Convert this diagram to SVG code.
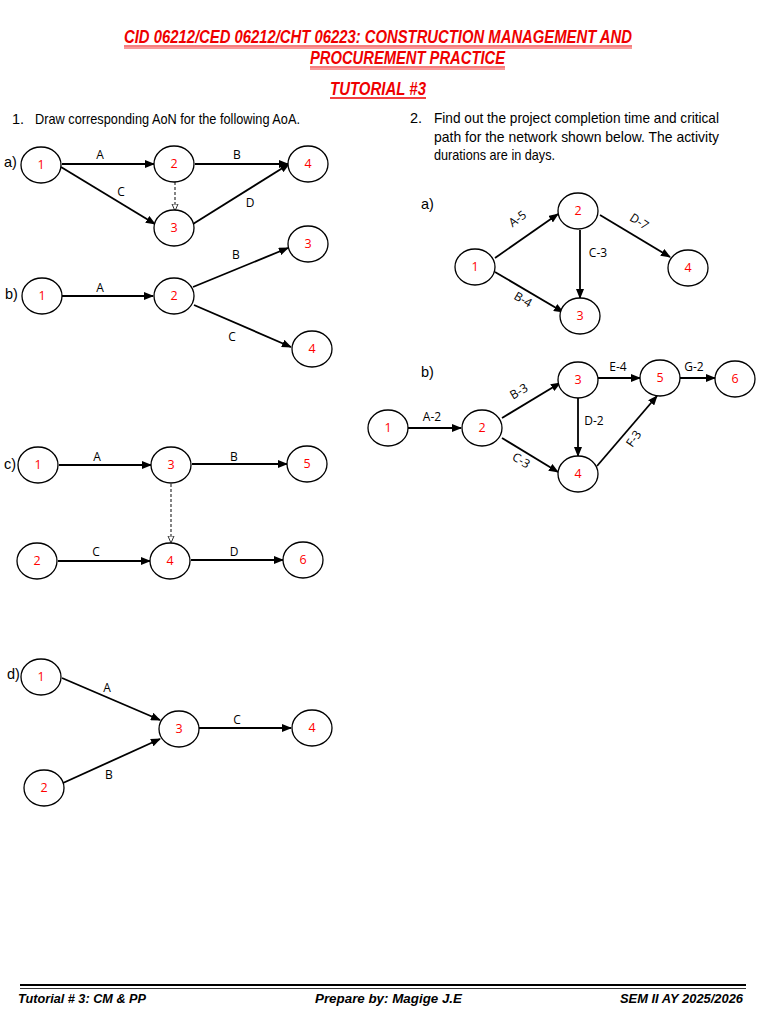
<svg xmlns="http://www.w3.org/2000/svg" width="768" height="1024" viewBox="0 0 768 1024">
<defs>
<marker id="ah" markerUnits="userSpaceOnUse" markerWidth="10" markerHeight="8" refX="9" refY="4" orient="auto"><path d="M0,0 L10,4 L0,8 Z" fill="#000"/></marker>
<marker id="oh" markerUnits="userSpaceOnUse" markerWidth="8" markerHeight="8" refX="7" refY="3.5" orient="auto"><path d="M0,0.5 L7,3.5 L0,6.5 Z" fill="#fff" stroke="#333" stroke-width="1"/></marker>
</defs>
<style>
.t{font-family:"Liberation Sans",Arial,sans-serif;fill:#e00;font-weight:bold;font-style:italic;font-size:18px}
.b{font-family:"Liberation Sans",Arial,sans-serif;fill:#000;font-size:14.5px}
.f{font-family:"Liberation Sans",Arial,sans-serif;fill:#000;font-weight:bold;font-style:italic;font-size:13.5px}
.n ellipse{fill:#fff;stroke:#000;stroke-width:1.3}
.n text{font-family:"Open Sans","DejaVu Sans",sans-serif;fill:#f00;font-size:12.5px;text-anchor:middle}
.l{font-family:"Open Sans","DejaVu Sans",sans-serif;fill:#000;font-size:12px;text-anchor:middle}
.e line{stroke:#000;stroke-width:1.8;marker-end:url(#ah)}
.e line.d{stroke:#333;stroke-width:1.2;stroke-dasharray:3,2;marker-end:url(#oh)}
</style>
<rect width="768" height="1024" fill="#fff"/>
<!-- Title -->
<text class="t" x="124" y="43" textLength="508" lengthAdjust="spacingAndGlyphs">CID 06212/CED 06212/CHT 06223: CONSTRUCTION MANAGEMENT AND</text>
<line x1="124" y1="46" x2="632" y2="46" stroke="#e00" stroke-width="1.2"/>
<line x1="124" y1="48" x2="632" y2="48" stroke="#e00" stroke-width="0.8"/>
<text class="t" x="310" y="64" textLength="195" lengthAdjust="spacingAndGlyphs">PROCUREMENT PRACTICE</text>
<line x1="310" y1="67" x2="505" y2="67" stroke="#e00" stroke-width="1.2"/>
<line x1="310" y1="69" x2="505" y2="69" stroke="#e00" stroke-width="0.8"/>
<text class="t" x="330" y="95" textLength="96" lengthAdjust="spacingAndGlyphs">TUTORIAL #3</text>
<line x1="330" y1="98" x2="426" y2="98" stroke="#e00" stroke-width="1.6"/>
<!-- Question texts -->
<text class="b" x="12" y="124">1.</text>
<text class="b" x="35" y="124" textLength="265" lengthAdjust="spacingAndGlyphs">Draw corresponding AoN for the following AoA.</text>
<text class="b" x="410" y="123">2.</text>
<text class="b" x="434" y="123" textLength="285" lengthAdjust="spacingAndGlyphs">Find out the project completion time and critical</text>
<text class="b" x="434" y="142" textLength="285" lengthAdjust="spacingAndGlyphs">path for the network shown below. The activity</text>
<text class="b" x="434" y="160" textLength="121" lengthAdjust="spacingAndGlyphs">durations are in days.</text>
<text class="b" x="4" y="167">a)</text>
<text class="b" x="5" y="299">b)</text>
<text class="b" x="4" y="469">c)</text>
<text class="b" x="7" y="679">d)</text>
<text class="b" x="421" y="209">a)</text>
<text class="b" x="421" y="377">b)</text>
<!-- Connectors -->
<g id="connectors" class="e">
<line x1="62" y1="164" x2="154" y2="164"/>
<line x1="195" y1="164" x2="288" y2="164"/>
<line x1="61" y1="167" x2="155" y2="224"/>
<line x1="193" y1="224" x2="289" y2="164"/>
<line class="d" x1="175" y1="182" x2="175" y2="211"/>
<line x1="62" y1="296" x2="153" y2="296"/>
<line x1="193" y1="287" x2="288" y2="248"/>
<line x1="194" y1="305" x2="291" y2="347"/>
<line x1="59" y1="465" x2="151" y2="465"/>
<line x1="192" y1="464" x2="287" y2="464"/>
<line class="d" x1="171" y1="484" x2="171" y2="543"/>
<line x1="58" y1="561" x2="150" y2="561"/>
<line x1="191" y1="560" x2="283" y2="560"/>
<line x1="62" y1="678" x2="160" y2="720"/>
<line x1="63" y1="783" x2="160" y2="739"/>
<line x1="199" y1="728" x2="291" y2="728"/>
<line x1="495" y1="258" x2="558" y2="214"/>
<line x1="600" y1="215" x2="670" y2="257"/>
<line x1="580" y1="230" x2="580" y2="298"/>
<line x1="495" y1="272" x2="563" y2="312"/>
<line x1="408" y1="428" x2="461" y2="428"/>
<line x1="502" y1="418" x2="560" y2="383"/>
<line x1="502" y1="438" x2="558" y2="472"/>
<line x1="578" y1="398" x2="578" y2="456"/>
<line x1="598" y1="378" x2="640" y2="378"/>
<line x1="597" y1="466" x2="657" y2="396"/>
<line x1="679" y1="378" x2="715" y2="378"/>
</g>
<!-- Labels -->
<g id="labels">
<text class="l" x="100" y="159">A</text>
<text class="l" x="237" y="159">B</text>
<text class="l" x="121" y="196">C</text>
<text class="l" x="250" y="207">D</text>
<text class="l" x="100" y="292">A</text>
<text class="l" x="236" y="259">B</text>
<text class="l" x="232" y="341">C</text>
<text class="l" x="97" y="461">A</text>
<text class="l" x="234" y="461">B</text>
<text class="l" x="96" y="556">C</text>
<text class="l" x="234" y="556">D</text>
<text class="l" x="107" y="692">A</text>
<text class="l" x="109" y="779">B</text>
<text class="l" x="237" y="724">C</text>
<text class="l" transform="translate(520,222) rotate(-36)">A-5</text>
<text class="l" transform="translate(637,225) rotate(33)">D-7</text>
<text class="l" x="598" y="257">C-3</text>
<text class="l" transform="translate(521,303) rotate(30)">B-4</text>
<text class="l" x="432" y="421">A-2</text>
<text class="l" transform="translate(521,395) rotate(-31)">B-3</text>
<text class="l" x="618" y="371">E-4</text>
<text class="l" x="694" y="371">G-2</text>
<text class="l" x="594" y="425">D-2</text>
<text class="l" transform="translate(519,464) rotate(31)">C-3</text>
<text class="l" transform="translate(637,441) rotate(-55)">F-3</text>
</g>
<!-- Nodes 1a -->
<g id="n1a1" class="n"><ellipse cx="41" cy="165" rx="20" ry="18"/><text x="41" y="169">1</text></g>
<g id="n1a2" class="n"><ellipse cx="174" cy="164" rx="20" ry="18"/><text x="174" y="168">2</text></g>
<g id="n1a4" class="n"><ellipse cx="308" cy="164" rx="20" ry="18"/><text x="308" y="168">4</text></g>
<g id="n1a3" class="n"><ellipse cx="174" cy="228" rx="20" ry="18"/><text x="174" y="232">3</text></g>
<!-- Nodes 1b -->
<g id="n1b1" class="n"><ellipse cx="42" cy="296" rx="20" ry="18"/><text x="42" y="300">1</text></g>
<g id="n1b2" class="n"><ellipse cx="174" cy="296" rx="20" ry="18"/><text x="174" y="300">2</text></g>
<g id="n1b3" class="n"><ellipse cx="308" cy="244" rx="20" ry="18"/><text x="308" y="248">3</text></g>
<g id="n1b4" class="n"><ellipse cx="312" cy="349" rx="20" ry="18"/><text x="312" y="353">4</text></g>
<!-- Nodes 1c -->
<g id="n1c1" class="n"><ellipse cx="38" cy="465" rx="20" ry="18"/><text x="38" y="469">1</text></g>
<g id="n1c3" class="n"><ellipse cx="171" cy="465" rx="20" ry="18"/><text x="171" y="469">3</text></g>
<g id="n1c5" class="n"><ellipse cx="307" cy="464" rx="20" ry="18"/><text x="307" y="468">5</text></g>
<g id="n1c2" class="n"><ellipse cx="37" cy="561" rx="20" ry="18"/><text x="37" y="565">2</text></g>
<g id="n1c4" class="n"><ellipse cx="170" cy="561" rx="20" ry="18"/><text x="170" y="565">4</text></g>
<g id="n1c6" class="n"><ellipse cx="303" cy="560" rx="20" ry="18"/><text x="303" y="564">6</text></g>
<!-- Nodes 1d -->
<g id="n1d1" class="n"><ellipse cx="41" cy="677" rx="20" ry="18"/><text x="41" y="681">1</text></g>
<g id="n1d3" class="n"><ellipse cx="179" cy="729" rx="20" ry="18"/><text x="179" y="733">3</text></g>
<g id="n1d4" class="n"><ellipse cx="312" cy="728" rx="20" ry="18"/><text x="312" y="732">4</text></g>
<g id="n1d2" class="n"><ellipse cx="44" cy="788" rx="20" ry="18"/><text x="44" y="792">2</text></g>
<!-- Nodes 2a -->
<g id="n2a1" class="n"><ellipse cx="475" cy="267" rx="20" ry="18"/><text x="475" y="271">1</text></g>
<g id="n2a2" class="n"><ellipse cx="578" cy="211" rx="20" ry="18"/><text x="578" y="215">2</text></g>
<g id="n2a4" class="n"><ellipse cx="688" cy="268" rx="20" ry="18"/><text x="688" y="272">4</text></g>
<g id="n2a3" class="n"><ellipse cx="580" cy="316" rx="20" ry="18"/><text x="580" y="320">3</text></g>
<!-- Nodes 2b -->
<g id="n2b1" class="n"><ellipse cx="388" cy="428" rx="20" ry="18"/><text x="388" y="432">1</text></g>
<g id="n2b2" class="n"><ellipse cx="482" cy="428" rx="20" ry="18"/><text x="482" y="432">2</text></g>
<g id="n2b3" class="n"><ellipse cx="578" cy="380" rx="20" ry="18"/><text x="578" y="384">3</text></g>
<g id="n2b4" class="n"><ellipse cx="578" cy="474" rx="20" ry="18"/><text x="578" y="478">4</text></g>
<g id="n2b5" class="n"><ellipse cx="660" cy="378" rx="20" ry="18"/><text x="660" y="382">5</text></g>
<g id="n2b6" class="n"><ellipse cx="735" cy="379" rx="20" ry="18"/><text x="735" y="383">6</text></g>
<!-- Footer -->
<line x1="20" y1="985" x2="746" y2="985" stroke="#000" stroke-width="2.2"/>
<line x1="20" y1="988.5" x2="746" y2="988.5" stroke="#000" stroke-width="0.8"/>
<text class="f" x="18" y="1003" textLength="128" lengthAdjust="spacingAndGlyphs">Tutorial # 3: CM &amp; PP</text>
<text class="f" x="315" y="1003" textLength="147" lengthAdjust="spacingAndGlyphs">Prepare by: Magige J.E</text>
<text class="f" x="620" y="1003" textLength="123" lengthAdjust="spacingAndGlyphs">SEM II AY 2025/2026</text>
</svg>
